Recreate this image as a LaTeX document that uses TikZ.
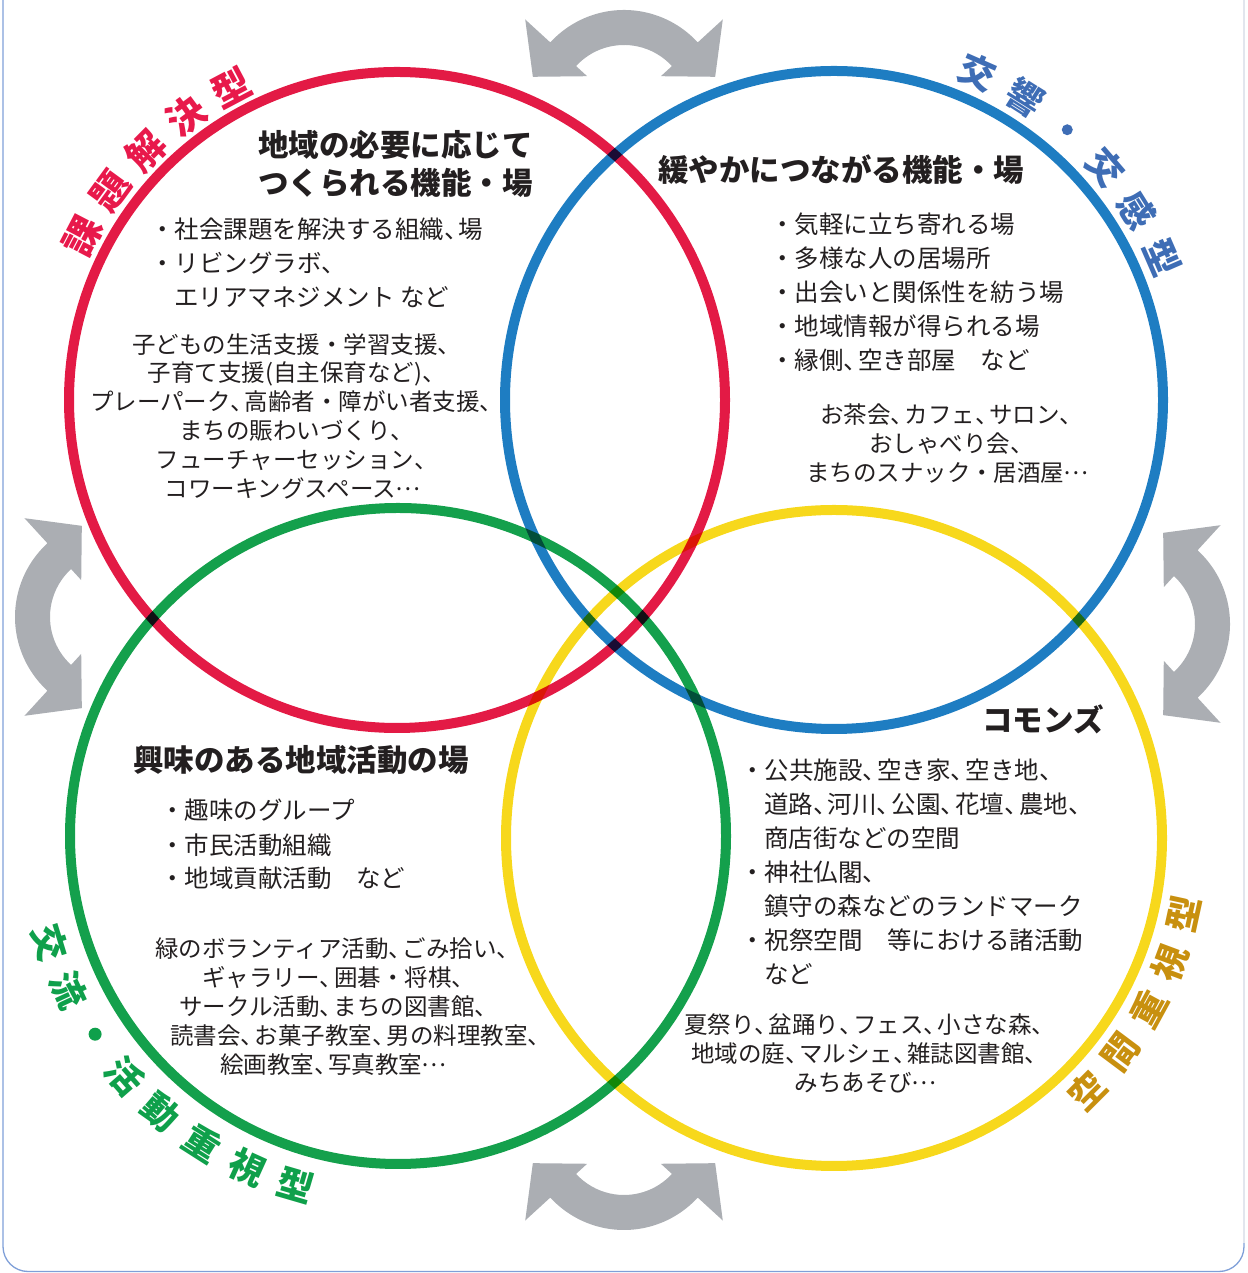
\documentclass[tikz,border=0pt]{standalone}
\usepackage{fontspec}
\setmainfont{Noto Sans CJK JP}
\usetikzlibrary{calc}
\definecolor{cred}{HTML}{E31A45}
\definecolor{cblue}{HTML}{1E7DC2}
\definecolor{cgreen}{HTML}{14A04C}
\definecolor{cyellow}{HTML}{F7D81C}
\definecolor{lred}{HTML}{E8194B}
\definecolor{lblue}{HTML}{3E6DB5}
\definecolor{lgreen}{HTML}{0FA04B}
\definecolor{lgold}{HTML}{C8900F}
\definecolor{agray}{HTML}{ABAEB3}
\definecolor{txt}{HTML}{231F20}
\definecolor{framec}{HTML}{7F9FD8}
\definecolor{framelight}{HTML}{E2E6EE}
\newcommand\tc{\makebox[0.6em][l]{、}}
\newcommand\jdots{\makebox[1em][c]{\raisebox{0.3em}{…}}}
\begin{document}
\begin{tikzpicture}[x=1pt,y=1pt,
  ring/.style={line width=10pt, blend mode=multiply},
  body/.style={inner sep=0pt, text=txt, font=\fontsize{24.5}{29}\selectfont, yshift=-9.3pt},
  smalltxt/.style={inner sep=0pt, text=txt, font=\fontsize{23.5}{29}\selectfont, yshift=-8.9pt, anchor=base},
  ttl/.style={inner sep=0pt, text=txt, font=\fontsize{30.5}{34}\selectfont\bfseries, yshift=-11.6pt, anchor=base west},
  lab/.style={inner sep=0pt, font=\fontsize{38}{40}\selectfont\bfseries},
  labb/.style={inner sep=0pt, font=\fontsize{36}{40}\selectfont\bfseries},
  dblarrow/.pic={\fill[agray] (42.5:100) arc[start angle=42.5,end angle=137.5,radius=100] -- (137.5:134) -- (160:97) -- (137.5:50) -- (137.5:65) arc[start angle=137.5,end angle=42.5,radius=65] -- (42.5:50) -- (20:97) -- (42.5:134) -- cycle;}
]
\useasboundingbox (0,0) rectangle (1247,1273);

% frame
\draw[framec, line width=1.3pt, rounded corners=25pt] (3,1290) -- (3,1.5) -- (1244,1.5) -- (1244,1290);
\draw[framelight, line width=1.8pt] (1244,30) -- (1244,1290);

% circles
\coordinate (rc) at (397,873);
\coordinate (bc) at (834,873);
\coordinate (gc) at (398,437);
\coordinate (yc) at (834,435);
\draw[ring, cred] (rc) circle[radius=328];
\draw[ring, cblue] (bc) circle[radius=329];
\draw[ring, cgreen] (gc) circle[radius=328];
\draw[ring, cyellow] (yc) circle[radius=328];

% gray double arrows
\pic at (624,1163) {dblarrow};
\pic[rotate=180] at (624,143) {dblarrow};
\pic[rotate=90] at (115,656) {dblarrow};
\pic[rotate=-90] at (1130,649) {dblarrow};

% curved labels
\foreach \c [count=\i from 0] in {課,題,解,決,型}
  \node[lab, text=lred, rotate={152.5-8.65*\i-90}] (lr\i) at ($(rc)+({152.5-8.65*\i}:354)$) {\c};
\foreach \c/\i in {交/0,響/1,交/3,感/4,型/5}
  \node[labb, text=lblue, rotate={66.3-8.55*\i-90}] (lb\i) at ($(bc)+({66.3-8.55*\i}:358)$) {\c};
\fill[lblue] ($(bc)+(49.2:357)$) circle (5.5);
\foreach \c/\i in {交/0,流/1,活/3,動/4,重/5,視/6,型/7}
  \node[labb, text=lgreen, rotate={197+8.1*\i+90}] (lg\i) at ($(gc)+({197+8.1*\i}:364)$) {\c};
\fill[lgreen] ($(gc)+(213.2:362)$) circle (6.5);
\foreach \c [count=\i from 0] in {空,間,重,視,型}
  \node[labb, text=lgold, rotate={-45+8.2*\i+90}] (ly\i) at ($(yc)+({-45+8.2*\i}:358)$) {\c};

% red block
\node[ttl] (t1a) at (258,1128) {地域の必要に応じて};
\node[ttl] (t1b) at (258,1090) {つくられる機能・場};
\node[body, anchor=base west] (r1) at (150,1044) {・社会課題を解決する組織\tc 場};
\node[body, anchor=base west] (r2) at (150,1010) {・リビングラボ\tc};
\node[body, anchor=base west] (r3) at (174,976) {エリアマネジメント など};
\foreach \t/\y [count=\i] in {子どもの生活支援・学習支援\tc/928, 子育て支援(自主保育など)\tc/900, プレーパーク\tc 高齢者・障がい者支援\tc/871, まちの賑わいづくり\tc/842, フューチャーセッション\tc/813, コワーキングスペース\jdots/784}
  \node[smalltxt] (ra\i) at (292,\y) {\t};

% blue block
\node[ttl] (t2) at (658,1103) {緩やかにつながる機能・場};
\foreach \t/\y [count=\i] in {・気軽に立ち寄れる場/1049, ・多様な人の居場所/1015, ・出会いと関係性を紡う場/981, ・地域情報が得られる場/947, ・縁側\tc 空き部屋　など/913}
  \node[body, anchor=base west] (b\i) at (770,\y) {\t};
\foreach \t/\y [count=\i] in {お茶会\tc カフェ\tc サロン\tc/858, おしゃべり会\tc/829, まちのスナック・居酒屋\jdots/800}
  \node[smalltxt] (ba\i) at (947,\y) {\t};

% green block
\node[ttl] (t3) at (133,513) {興味のある地域活動の場};
\foreach \t/\y [count=\i] in {・趣味のグループ/463, ・市民活動組織/428, ・地域貢献活動　など/395}
  \node[body, anchor=base west] (g\i) at (160,\y) {\t};
\foreach \x/\y/\t [count=\i] in {333/324/緑のボランティア活動\tc ごみ拾い\tc, 334/295/ギャラリー\tc 囲碁・将棋\tc, 334/266/サークル活動\tc まちの図書館\tc, 356/237/読書会\tc お菓子教室\tc 男の料理教室\tc, 333/208/絵画教室\tc 写真教室\jdots}
  \node[smalltxt] (ga\i) at (\x,\y) {\t};

% yellow block
\node[ttl] (t4) at (982,553) {コモンズ};
\foreach \x/\y/\t [count=\i] in {740/503/・公共施設\tc 空き家\tc 空き地\tc, 764/469/道路\tc 河川\tc 公園\tc 花壇\tc 農地\tc, 764/435/商店街などの空間, 740/401/・神社仏閣\tc, 764/367/鎮守の森などのランドマーク, 740/333/・祝祭空間　等における諸活動, 764/299/など}
  \node[body, anchor=base west] (y\i) at (\x,\y) {\t};
\foreach \t/\y [count=\i] in {夏祭り\tc 盆踊り\tc フェス\tc 小さな森\tc/248, 地域の庭\tc マルシェ\tc 雑誌図書館\tc/219, みちあそび\jdots/190}
  \node[smalltxt] (ya\i) at (865,\y) {\t};
\end{tikzpicture}
\end{document}
